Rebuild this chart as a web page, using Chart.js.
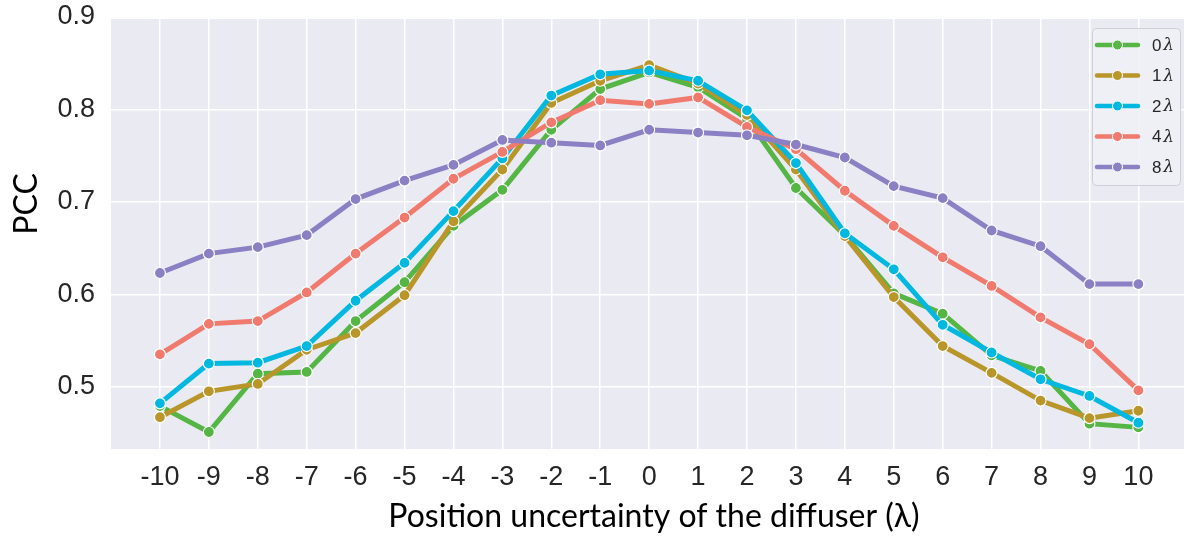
<!DOCTYPE html>
<html>
<head>
<meta charset="utf-8">
<script src="https://cdn.jsdelivr.net/npm/chart.js@4"></script>
<style>
  html, body { margin: 0; padding: 0; background: #fff; overflow: hidden; }
  #wrap { position: relative; width: 1194px; height: 537px; }
</style>
</head>
<body>
<div id="wrap"><canvas id="miGrafica"></canvas></div>
<script>
// datos
const posiciones = [-10, -9, -8, -7, -6, -5, -4, -3, -2, -1, 0, 1, 2, 3, 4, 5, 6, 7, 8, 9, 10];
const ticksY = [0.5, 0.6, 0.7, 0.8, 0.9];
const etiquetas = ["0λ", "1λ", "2λ", "4λ", "8λ"];
const pcc0 = [0.479, 0.451, 0.514, 0.516, 0.571, 0.613, 0.674, 0.713, 0.778, 0.822, 0.840, 0.824, 0.790, 0.715, 0.664, 0.601, 0.579, 0.534, 0.517, 0.460, 0.456];
const pcc1 = [0.467, 0.495, 0.503, 0.540, 0.558, 0.599, 0.679, 0.735, 0.807, 0.831, 0.848, 0.828, 0.794, 0.735, 0.663, 0.597, 0.544, 0.515, 0.485, 0.466, 0.474];
const pcc2 = [0.482, 0.525, 0.526, 0.544, 0.593, 0.634, 0.690, 0.747, 0.815, 0.838, 0.842, 0.831, 0.799, 0.742, 0.666, 0.627, 0.567, 0.537, 0.508, 0.490, 0.461];
const pcc4 = [0.535, 0.568, 0.571, 0.602, 0.644, 0.683, 0.725, 0.754, 0.786, 0.810, 0.806, 0.813, 0.781, 0.757, 0.712, 0.674, 0.640, 0.609, 0.575, 0.546, 0.496];
const pcc8 = [0.623, 0.644, 0.651, 0.664, 0.703, 0.723, 0.740, 0.767, 0.764, 0.761, 0.778, 0.775, 0.772, 0.762, 0.748, 0.717, 0.704, 0.669, 0.652, 0.611, 0.611];
const colores = ["#55b545", "#b9962a", "#00b8e0", "#f07a6e", "#8b80c4"];

const series = [pcc0, pcc1, pcc2, pcc4, pcc8];

const fondo = {
    id: "fondo",
    beforeDraw(chart) {
        const { ctx, chartArea: a } = chart;
        ctx.save();
        ctx.fillStyle = "#eaeaf2";
        ctx.fillRect(a.left, a.top + 2, a.right - a.left, a.bottom - a.top - 2);
        ctx.restore();
    }
};

const textos = {
    id: "textos",
    afterDraw(chart) {
        const ctx = chart.ctx;
        ctx.save();
        ctx.fillStyle = "#000";
        ctx.font = "32px Lato";
        ctx.textAlign = "center";
        ctx.textBaseline = "alphabetic";
        ctx.fillText("Position uncertainty of the diffuser (λ)", 654, 527);
        ctx.translate(37, 204);
        ctx.rotate(-Math.PI / 2);
        ctx.fillText("PCC", 0, 0);
        ctx.restore();

        // leyenda
        const x0 = 1092, y0 = 28, w = 88, h = 157;
        ctx.save();
        ctx.fillStyle = "rgba(240,240,246,0.9)";
        ctx.strokeStyle = "#cfcfd6";
        ctx.lineWidth = 1;
        ctx.beginPath();
        ctx.roundRect(x0 + 0.5, y0 + 0.5, w, h, 4);
        ctx.fill();
        ctx.stroke();
        etiquetas.forEach((et, i) => {
            const y = 45 + i * 30.5;
            ctx.strokeStyle = colores[i];
            ctx.lineWidth = 4.5;
            ctx.lineCap = "round";
            ctx.beginPath();
            ctx.moveTo(1097, y);
            ctx.lineTo(1138, y);
            ctx.stroke();
            ctx.fillStyle = colores[i];
            ctx.strokeStyle = "#fff";
            ctx.lineWidth = 1;
            ctx.beginPath();
            ctx.arc(1117.5, y, 5, 0, Math.PI * 2);
            ctx.fill();
            ctx.stroke();
            ctx.fillStyle = "#262626";
            ctx.textAlign = "left";
            ctx.textBaseline = "middle";
            ctx.font = "17px 'Liberation Sans'";
            ctx.fillText(et[0], 1152, y + 1);
            ctx.font = "italic 17px 'DejaVu Serif'";
            ctx.fillText(et.slice(1), 1152 + ctx.measureText("0").width * 1.05, y + 1);
        });
        ctx.restore();
    }
};

const ctx = document.getElementById("miGrafica").getContext("2d");
new Chart(ctx, {
    type: "line",
    data: {
        datasets: series.map((s, i) => ({
            label: etiquetas[i],
            data: posiciones.map((p, j) => ({ x: p, y: s[j] })),
            borderColor: colores[i],
            backgroundColor: colores[i],
            borderWidth: 5,
            pointRadius: 5.5,
            pointBorderColor: "#fff",
            pointBorderWidth: 1.2,
            pointBackgroundColor: colores[i],
            tension: 0,
            order: series.length - i
        }))
    },
    options: {
        responsive: true,
        maintainAspectRatio: false,
        animation: false,
        layout: { padding: { top: 17, right: 0, left: 0, bottom: 0 } },
        plugins: {
            legend: { display: false },
            tooltip: { enabled: false }
        },
        scales: {
            x: {
                type: "linear",
                min: -11,
                max: 11,
                afterBuildTicks: s => { s.ticks = posiciones.map(v => ({ value: v })); },
                afterFit: s => { s.height = 88; s.paddingLeft = 0; s.paddingRight = 0; },
                grid: { color: "#ffffff", lineWidth: 1.5, drawTicks: false },
                border: { display: false },
                ticks: {
                    padding: 12,
                    maxRotation: 0,
                    autoSkip: false,
                    color: "#262626",
                    font: { family: "'Liberation Sans'", size: 27 }
                }
            },
            y: {
                min: 0.4326,
                max: 0.9,
                afterBuildTicks: s => { s.ticks = ticksY.map(v => ({ value: v })); },
                afterFit: s => { s.width = 111; s.paddingTop = 0; s.paddingBottom = 0; },
                grid: { color: "#ffffff", lineWidth: 1.5, drawTicks: false },
                border: { display: false },
                ticks: {
                    padding: 16,
                    color: "#262626",
                    font: { family: "'Liberation Sans'", size: 27 },
                    callback: v => v.toFixed(1)
                }
            }
        }
    },
    plugins: [fondo, textos]
});
</script>
</body>
</html>
